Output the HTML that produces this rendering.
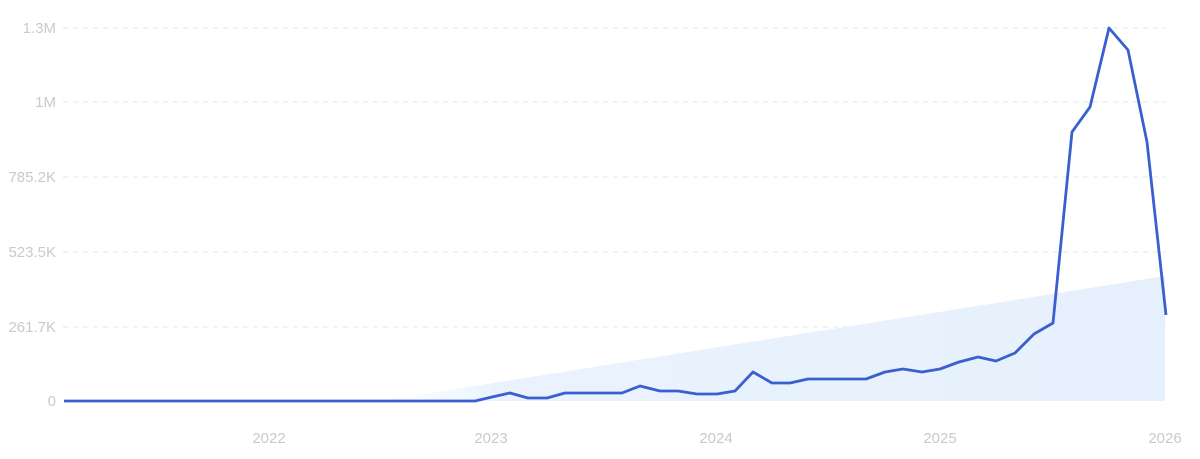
<!DOCTYPE html>
<html><head><style>
html,body{margin:0;padding:0;background:#fff;}
svg{display:block;}
text{font-family:"Liberation Sans",sans-serif;fill:#c8cacf;font-size:15px;}
</style></head><body>
<svg width="1200" height="459" viewBox="0 0 1200 459">
<defs>
<linearGradient id="g" x1="0" y1="0" x2="1" y2="0">
<stop offset="0" stop-color="#eef5fd" stop-opacity="0"/>
<stop offset="0.15" stop-color="#eaf3fd"/>
<stop offset="1" stop-color="#e6f0fc"/>
</linearGradient>
</defs>
<g stroke="#e2e4e8" stroke-width="1" stroke-dasharray="5,5">
<line x1="63" y1="28" x2="1166" y2="28"/>
<line x1="63" y1="102" x2="1166" y2="102"/>
<line x1="63" y1="177" x2="1166" y2="177"/>
<line x1="63" y1="252" x2="1166" y2="252"/>
<line x1="63" y1="327" x2="1166" y2="327"/>
</g>
<polygon points="380,401 1165,276 1165,401" fill="url(#g)"/>
<g text-anchor="end">
<text x="56" y="33">1.3M</text>
<text x="56" y="107">1M</text>
<text x="56" y="182">785.2K</text>
<text x="56" y="257">523.5K</text>
<text x="56" y="332">261.7K</text>
<text x="56" y="406">0</text>
</g>
<g text-anchor="middle">
<text x="269" y="443">2022</text>
<text x="491" y="443">2023</text>
<text x="716" y="443">2024</text>
<text x="940" y="443">2025</text>
<text x="1165" y="443">2026</text>
</g>
<polyline fill="none" stroke="#3a60d0" stroke-width="2.8" stroke-linejoin="round" points="64,401 475,401 492,397 510,393 528,398 547,398 565,393 584,393 603,393 622,393 640,386 660,391 678,391 697,394 717,394 735,391 753,372 772,383 790,383 808,379 827,379 846,379 866,379 885,372 903,369 922,372 940,369 959,362 978,357 996,361 1015,353 1034,334 1053,323 1072,132 1090,107 1109,28 1128,50 1147,142 1166,315"/>
</svg>
</body></html>
